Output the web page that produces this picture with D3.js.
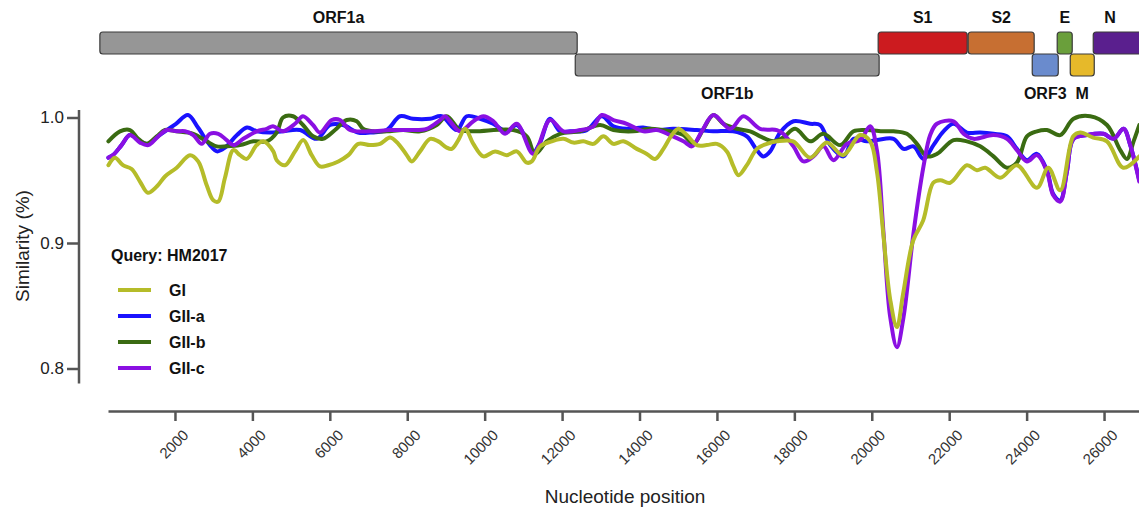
<!DOCTYPE html>
<html>
<head>
<meta charset="utf-8">
<script src="https://cdn.jsdelivr.net/npm/d3@7"></script>
<style>
  html, body { margin: 0; padding: 0; background: #fff; }
  svg { display: block; font-family: "Liberation Sans", Arial, sans-serif; }
</style>
</head>
<body>
<svg id="chart" width="1139" height="509"></svg>
<script>
// ---------- data ----------
const seriesNames = ["GI", "GII-a", "GII-b", "GII-c"];
const queryName = "HM2017";

const posGI = [280,450,656,880,1096,1300,1530,1742,2045,2388,2600,2820,2990,3120,3292,3507,3680,3853,4111,4282,4540,4628,4842,5101,5315,5532,5747,5960,6220,6478,6737,7039,7297,7556,7770,7987,8116,8331,8589,8804,9020,9150,9320,9494,9708,9967,10269,10571,10829,11088,11217,11432,11734,12034,12292,12551,12809,13068,13326,13584,13930,14189,14403,14618,14835,15005,15222,15480,15739,15997,16256,16427,16556,16773,17031,17290,17548,17969,18408,18840,19261,19700,19959,20132,20295,20476,20650,20812,21070,21328,21587,21768,22026,22457,22715,22930,23318,23749,24266,24558,24868,25204,25385,25721,26075,26496,26910];
const simGI = [0.962,0.968,0.962,0.959,0.949,0.940,0.945,0.953,0.960,0.970,0.965,0.946,0.934,0.933,0.952,0.974,0.970,0.967,0.978,0.981,0.973,0.966,0.962,0.973,0.982,0.970,0.961,0.962,0.965,0.970,0.979,0.978,0.979,0.984,0.979,0.970,0.965,0.973,0.983,0.981,0.976,0.975,0.982,0.991,0.979,0.969,0.973,0.970,0.973,0.964,0.965,0.977,0.981,0.983,0.980,0.981,0.979,0.985,0.979,0.981,0.975,0.971,0.967,0.975,0.986,0.991,0.986,0.978,0.978,0.979,0.973,0.961,0.954,0.962,0.975,0.979,0.981,0.981,0.968,0.980,0.970,0.986,0.981,0.957,0.908,0.855,0.833,0.860,0.902,0.918,0.948,0.950,0.948,0.962,0.958,0.960,0.952,0.962,0.944,0.960,0.942,0.985,0.988,0.984,0.981,0.960,0.969];

const posGIIa = [280,400,620,837,1096,1300,1560,1793,2026,2336,2594,2904,3085,3292,3602,3860,4119,4455,4791,5230,5660,6005,6341,6729,7039,7470,7814,8150,8589,8890,9280,9537,9881,10217,10571,10829,11088,11251,11432,11690,11948,12207,12638,13026,13326,13672,14093,14447,14868,15480,15902,16419,16773,17031,17203,17375,17633,17977,18408,18667,18925,19270,19528,19873,20132,20561,20820,21078,21336,21594,21853,22111,22457,22801,23145,23491,23749,24008,24266,24525,24688,24868,25041,25212,25557,25988,26246,26505,26677,26910];
const simGIIa = [0.968,0.970,0.978,0.986,0.981,0.979,0.985,0.990,0.995,1.002,0.992,0.978,0.973,0.976,0.986,0.992,0.989,0.988,0.989,0.990,0.983,0.994,0.994,0.988,0.988,0.990,1.001,0.999,0.999,1.001,0.990,1.001,0.999,0.995,0.989,0.994,0.982,0.972,0.980,0.999,0.989,0.989,0.990,1.001,0.993,0.991,0.992,0.990,0.991,0.990,0.989,0.989,0.985,0.974,0.969,0.973,0.988,0.997,0.995,0.994,0.978,0.969,0.983,0.981,0.982,0.983,0.975,0.977,0.967,0.978,0.989,0.995,0.988,0.988,0.987,0.985,0.975,0.966,0.971,0.958,0.939,0.934,0.957,0.983,0.986,0.987,0.983,0.991,0.978,0.950];

const posGIIb = [280,580,837,1052,1270,1530,1742,2045,2473,2820,3078,3336,3680,4024,4370,4628,4791,5049,5307,5566,5824,6134,6437,6695,6858,7116,7470,7892,8331,8762,9020,9364,9708,10742,11088,11302,11605,11948,12465,12982,13326,13843,14274,14791,15136,15393,15652,15910,16168,16514,16858,17116,17460,17711,18020,18408,18752,19184,19528,19873,20303,20561,20907,21166,21424,21682,22111,22457,22801,23145,23491,23749,24008,24266,24525,24868,25212,25644,26075,26419,26592,26763,26910];
const simGIIb = [0.981,0.989,0.990,0.983,0.979,0.985,0.990,0.989,0.987,0.981,0.977,0.977,0.978,0.981,0.981,0.988,1.000,1.001,0.994,0.985,0.983,0.990,0.998,0.997,0.991,0.989,0.989,0.990,0.989,0.994,1.001,0.990,0.989,0.990,0.985,0.971,0.981,0.987,0.989,0.994,0.990,0.989,0.991,0.989,0.986,0.979,0.991,1.002,0.995,0.991,0.989,0.985,0.981,0.984,0.991,0.981,0.987,0.978,0.989,0.990,0.989,0.989,0.987,0.979,0.969,0.971,0.982,0.981,0.977,0.969,0.960,0.964,0.985,0.989,0.990,0.986,0.999,1.001,0.994,0.974,0.967,0.981,0.994];

const posGIIc = [280,400,620,837,1096,1310,1568,1785,2045,2258,2473,2690,2904,3119,3336,3507,3765,4111,4370,4532,4791,5101,5307,5566,5747,6050,6264,6522,7039,7556,8072,8504,8848,8977,9106,9364,9708,9967,10225,10527,10829,11260,11690,12034,12465,12809,13026,13326,13672,14101,14447,14791,15136,15352,15610,15910,16341,16685,17116,17548,17711,17977,18235,18494,18752,19010,19356,19700,19959,20132,20303,20476,20650,20820,21078,21336,21509,21682,22111,22370,22628,23145,23491,23749,24008,24266,24525,24688,24868,25041,25212,25557,25988,26246,26505,26677,26910];
const simGIIc = [0.968,0.970,0.978,0.986,0.980,0.978,0.985,0.990,0.989,0.989,0.986,0.979,0.987,0.987,0.982,0.978,0.983,0.989,0.991,0.993,0.989,0.995,1.001,0.994,0.988,0.998,0.998,0.990,0.989,0.990,0.990,0.991,0.998,1.001,0.997,0.989,0.997,1.001,0.997,0.987,0.995,0.971,0.998,0.989,0.990,0.993,1.002,0.998,0.995,0.989,0.990,0.986,0.981,0.977,0.989,1.002,0.991,1.001,0.991,0.990,0.987,0.977,0.965,0.969,0.977,0.966,0.979,0.982,0.993,0.974,0.908,0.841,0.817,0.841,0.908,0.961,0.986,0.995,0.997,0.987,0.983,0.986,0.983,0.974,0.965,0.970,0.957,0.938,0.933,0.957,0.983,0.986,0.987,0.983,0.991,0.978,0.949];

const xTicks = [2000,4000,6000,8000,10000,12000,14000,16000,18000,20000,22000,24000,26000];
const yTicks = [0.8, 0.9, 1.0];

const geneNames  = ["ORF1a","ORF1b","S1","S2","ORF3","E","M","N"];
const geneStart  = [60,12340,20165,22490,24145,24790,25127,25721];
const geneEnd    = [12390,20190,22465,24195,24817,25178,25747,27400];
const geneRow    = [0,1,0,0,1,0,1,0];

// ---------- styles ----------
const seriesColors = ["#b5bc29", "#1a12ff", "#3a6b12", "#8a10e2"];
const geneColors = ["#969696","#969696","#cc1b1f","#c76f32","#6a8bcd","#6a9f3b","#e6b92a","#5a1f8e"];
const axisColor = "#555";

// ---------- scales ----------
const svg = d3.select("#chart");
const x = d3.scaleLinear().domain([270, 27200]).range([108, 1150.5]);
const y = d3.scaleLinear().domain([0.8, 1.0]).range([368.5, 117.5]);

// ---------- genome map ----------
const rowTop = [32, 54];
const barH = 22;
const genes = geneNames.map((n, i) => ({name: n, s: geneStart[i], e: geneEnd[i], row: geneRow[i], color: geneColors[i]}));
const gG = svg.append("g");
gG.selectAll("rect").data(genes).join("rect")
  .attr("x", d => x(d.s)).attr("y", d => rowTop[d.row])
  .attr("width", d => x(d.e) - x(d.s)).attr("height", barH)
  .attr("rx", 3).attr("ry", 3)
  .attr("fill", d => d.color).attr("stroke", "#3a3a3a").attr("stroke-width", 1.2);
gG.selectAll("text").data(genes).join("text")
  .attr("x", d => (x(d.s) + Math.min(x(d.e), 1139)) / 2 + (d.name === "N" ? -6 : 0))
  .attr("y", d => d.row === 0 ? rowTop[0] - 9 : rowTop[1] + barH + 23)
  .attr("text-anchor", "middle")
  .attr("font-size", 16).attr("font-weight", "bold").attr("fill", "#111")
  .text(d => d.name);

// ---------- axes ----------
const axisX = 79, axisY = 411;
// y axis
svg.append("line").attr("x1", axisX).attr("x2", axisX).attr("y1", 110).attr("y2", 383.5)
  .attr("stroke", axisColor).attr("stroke-width", 2.5);
const yAxis = d3.axisLeft(y).tickValues(yTicks).tickFormat(d3.format(".1f")).tickSize(12).tickPadding(3);
const gy = svg.append("g").attr("transform", `translate(${axisX},0)`).call(yAxis);
gy.select(".domain").remove();
gy.selectAll(".tick line").attr("stroke", axisColor).attr("stroke-width", 2.5);
gy.selectAll(".tick text").attr("font-size", 17).attr("fill", "#222")
  .attr("font-family", "'Liberation Sans', Arial, sans-serif");

// x axis
const xAxis = d3.axisBottom(x).tickValues(xTicks).tickFormat(d3.format("d")).tickSize(10).tickSizeOuter(0);
const gx = svg.append("g").attr("transform", `translate(0,${axisY})`).call(xAxis);
gx.select(".domain").attr("stroke", axisColor).attr("stroke-width", 2.5);
gx.selectAll(".tick line").attr("stroke", axisColor).attr("stroke-width", 2.5);
gx.selectAll(".tick text")
  .attr("font-size", 15).attr("fill", "#333")
  .attr("font-family", "'Liberation Sans', Arial, sans-serif")
  .attr("text-anchor", "end")
  .attr("dy", null).attr("y", 0)
  .attr("transform", "translate(14,25) rotate(-45)");

// titles
svg.append("text").attr("x", 625).attr("y", 503).attr("text-anchor", "middle")
  .attr("font-size", 19).attr("fill", "#222").text("Nucleotide position");
svg.append("text").attr("transform", "translate(29,246) rotate(-90)").attr("text-anchor", "middle")
  .attr("font-size", 19).attr("fill", "#222").text("Similarity (%)");

// ---------- lines ----------
const series = [
  {name: seriesNames[0], pos: posGI,   sim: simGI,   color: seriesColors[0]},
  {name: seriesNames[1], pos: posGIIa, sim: simGIIa, color: seriesColors[1]},
  {name: seriesNames[2], pos: posGIIb, sim: simGIIb, color: seriesColors[2]},
  {name: seriesNames[3], pos: posGIIc, sim: simGIIc, color: seriesColors[3]}
];
const line = d3.line().x(d => x(d[0])).y(d => y(d[1])).curve(d3.curveCatmullRom.alpha(0.5));
const drawOrder = [1, 2, 3, 0];
const gl = svg.append("g");
drawOrder.forEach(i => {
  const s = series[i];
  gl.append("path")
    .datum(s.pos.map((p, j) => [p, s.sim[j]]))
    .attr("d", line).attr("fill", "none")
    .attr("stroke", s.color).attr("stroke-width", 4)
    .attr("stroke-linejoin", "round").attr("stroke-linecap", "round");
});

// ---------- legend ----------
const lg = svg.append("g");
lg.append("text").attr("x", 111).attr("y", 261).attr("font-size", 16).attr("font-weight", "bold")
  .attr("fill", "#111").text("Query: " + queryName);
const legY = d3.scalePoint().domain(seriesNames).range([290, 368]);
series.forEach(s => {
  lg.append("line").attr("x1", 118).attr("x2", 151).attr("y1", legY(s.name)).attr("y2", legY(s.name))
    .attr("stroke", s.color).attr("stroke-width", 4);
  lg.append("text").attr("x", 169).attr("y", legY(s.name) + 6).attr("font-size", 16)
    .attr("font-weight", "bold").attr("fill", "#111").text(s.name);
});
</script>
</body>
</html>
